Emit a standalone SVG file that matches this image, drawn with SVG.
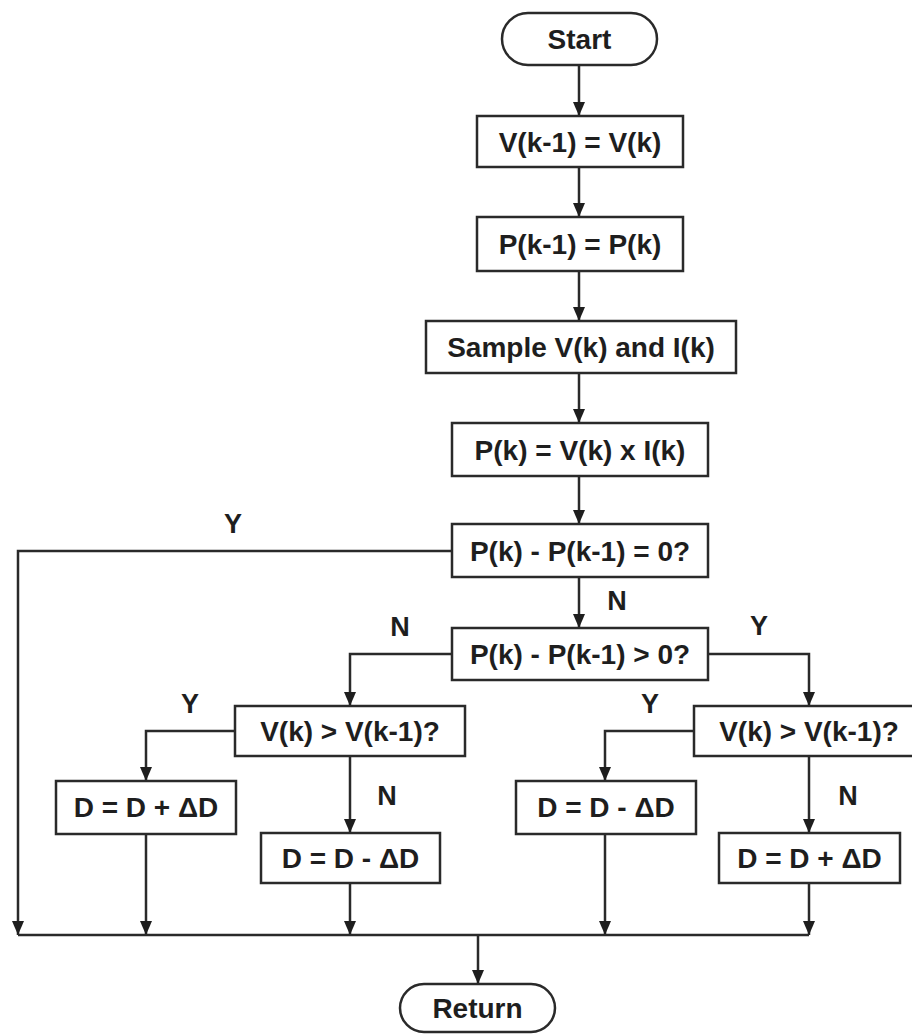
<svg xmlns="http://www.w3.org/2000/svg" width="912" height="1034" viewBox="0 0 912 1034">
<defs>
<style>
.box{fill:#fff;stroke:#2a2a2a;stroke-width:2.5}
.t{font-family:"Liberation Sans",Arial,sans-serif;font-weight:bold;font-size:28px;fill:#1e1e1e;text-anchor:middle}
.lbl{font-family:"Liberation Sans",Arial,sans-serif;font-weight:bold;font-size:27px;fill:#1e1e1e;text-anchor:middle}
.c{fill:none;stroke:#2a2a2a;stroke-width:2.5}
</style>
<marker id="ah" viewBox="0 0 14 12" refX="14" refY="6" markerWidth="14" markerHeight="12" markerUnits="userSpaceOnUse" orient="auto">
<path d="M0,0 L14,6 L0,12 z" fill="#1e1e1e"/>
</marker>
</defs>
<rect width="912" height="1034" fill="#fff"/>
<g id="connectors">
<path class="c" d="M579,65 V116" marker-end="url(#ah)"/>
<path class="c" d="M579,167 V217" marker-end="url(#ah)"/>
<path class="c" d="M579,271 V321" marker-end="url(#ah)"/>
<path class="c" d="M579,373 V423" marker-end="url(#ah)"/>
<path class="c" d="M579,476 V524" marker-end="url(#ah)"/>
<path class="c" d="M579,577 V628" marker-end="url(#ah)"/>
<path class="c" d="M452,551 H18 V935" marker-end="url(#ah)"/>
<path class="c" d="M452,654 H350 V706" marker-end="url(#ah)"/>
<path class="c" d="M708,654 H809 V706" marker-end="url(#ah)"/>
<path class="c" d="M235,731 H146 V781" marker-end="url(#ah)"/>
<path class="c" d="M350,756 V833" marker-end="url(#ah)"/>
<path class="c" d="M694,731 H605 V781" marker-end="url(#ah)"/>
<path class="c" d="M809,756 V833" marker-end="url(#ah)"/>
<path class="c" d="M146,834 V935" marker-end="url(#ah)"/>
<path class="c" d="M350,883 V935" marker-end="url(#ah)"/>
<path class="c" d="M605,834 V935" marker-end="url(#ah)"/>
<path class="c" d="M809,883 V935" marker-end="url(#ah)"/>
<path class="c" d="M18,935 H809"/>
<path class="c" d="M478,935 V984" marker-end="url(#ah)"/>
<text class="lbl" x="233" y="533">Y</text>
<text class="lbl" x="617" y="610">N</text>
<text class="lbl" x="400" y="636">N</text>
<text class="lbl" x="759" y="635">Y</text>
<text class="lbl" x="190" y="713">Y</text>
<text class="lbl" x="387" y="805">N</text>
<text class="lbl" x="650" y="713">Y</text>
<text class="lbl" x="848" y="805">N</text>
</g>
<g id="start">
<rect class="box" x="502" y="13" width="155" height="52" rx="26"/>
<text class="t" x="579.5" y="49">Start</text>
</g>
<g id="n1">
<rect class="box" x="477" y="116" width="206" height="51"/>
<text class="t" x="580" y="152">V(k-1) = V(k)</text>
</g>
<g id="n2">
<rect class="box" x="477" y="217" width="206" height="54"/>
<text class="t" x="580" y="254">P(k-1) = P(k)</text>
</g>
<g id="n3">
<rect class="box" x="426" y="321" width="310" height="52"/>
<text class="t" x="581" y="357">Sample V(k) and I(k)</text>
</g>
<g id="n4">
<rect class="box" x="452" y="423" width="256" height="53"/>
<text class="t" x="580" y="460">P(k) = V(k) x I(k)</text>
</g>
<g id="d1">
<rect class="box" x="452" y="524" width="256" height="53"/>
<text class="t" x="580" y="561">P(k) - P(k-1) = 0?</text>
</g>
<g id="d2">
<rect class="box" x="452" y="628" width="256" height="52"/>
<text class="t" x="580" y="664">P(k) - P(k-1) &gt; 0?</text>
</g>
<g id="d3">
<rect class="box" x="235" y="706" width="230" height="50"/>
<text class="t" x="350" y="741">V(k) &gt; V(k-1)?</text>
</g>
<g id="d4">
<rect class="box" x="694" y="706" width="232" height="50"/>
<text class="t" x="809" y="741">V(k) &gt; V(k-1)?</text>
</g>
<g id="a1">
<rect class="box" x="56" y="781" width="180" height="53"/>
<text class="t" x="146" y="817">D = D + ΔD</text>
</g>
<g id="a2">
<rect class="box" x="261" y="833" width="179" height="50"/>
<text class="t" x="350.5" y="868">D = D - ΔD</text>
</g>
<g id="a3">
<rect class="box" x="516" y="781" width="180" height="53"/>
<text class="t" x="606" y="817">D = D - ΔD</text>
</g>
<g id="a4">
<rect class="box" x="719" y="833" width="181" height="50"/>
<text class="t" x="809.5" y="868">D = D + ΔD</text>
</g>
<g id="return">
<rect class="box" x="400" y="984" width="155" height="48" rx="24"/>
<text class="t" x="477.5" y="1018">Return</text>
</g>
</svg>
